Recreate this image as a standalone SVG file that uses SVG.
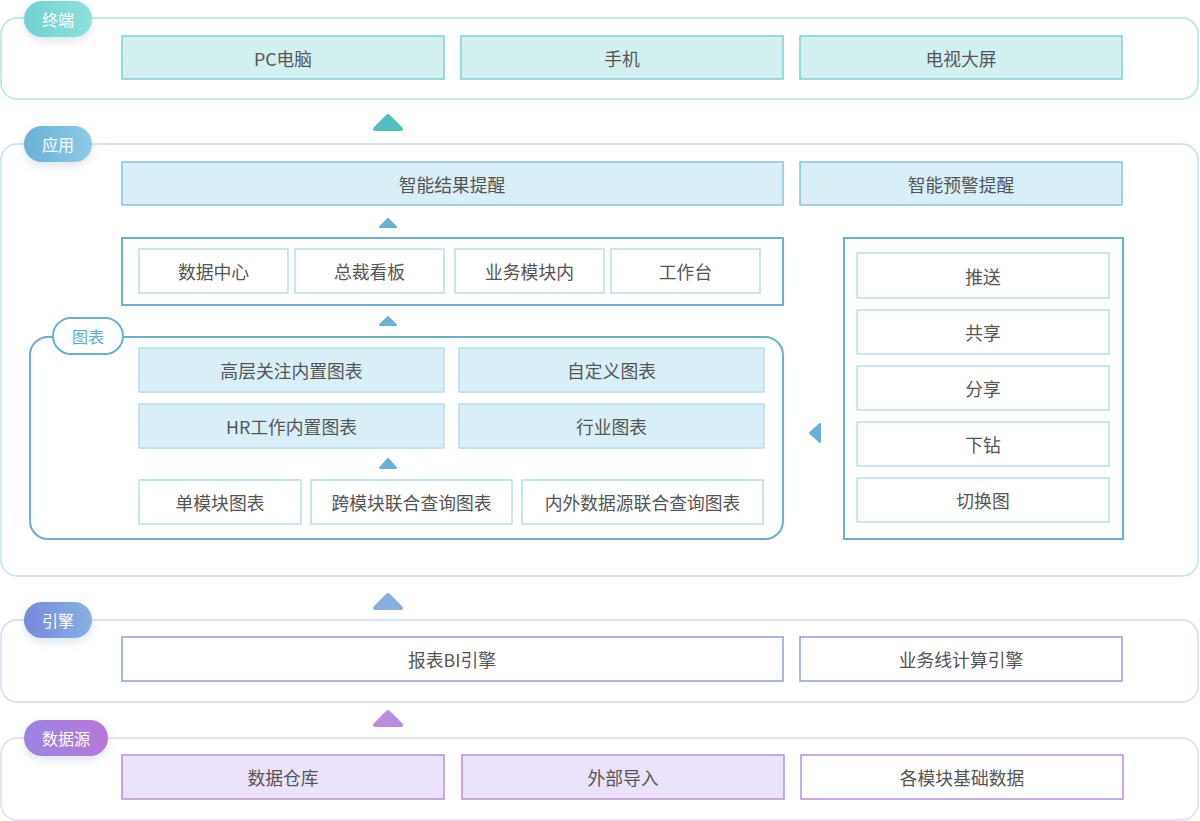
<svg xmlns="http://www.w3.org/2000/svg" width="1200" height="821" viewBox="0 0 1200 821">
<defs>
<linearGradient id="gT" x1="0" y1="0" x2="1" y2="0"><stop offset="0" stop-color="#6fd3d2"/><stop offset="1" stop-color="#8fdfdc"/></linearGradient>
<linearGradient id="gA" x1="0" y1="0" x2="1" y2="0"><stop offset="0" stop-color="#69b1d8"/><stop offset="1" stop-color="#8ecae5"/></linearGradient>
<linearGradient id="gE" x1="0" y1="0" x2="1" y2="0"><stop offset="0" stop-color="#7789db"/><stop offset="1" stop-color="#87b0e3"/></linearGradient>
<linearGradient id="gD" x1="0" y1="0" x2="1" y2="0"><stop offset="0" stop-color="#9b84e3"/><stop offset="1" stop-color="#b878d6"/></linearGradient>
<filter id="sh" x="-30%" y="-40%" width="160%" height="200%"><feDropShadow dx="0" dy="4" stdDeviation="4" flood-color="#6a8fb0" flood-opacity="0.22"/></filter>
</defs>
<style>
text{font-family:"Noto Sans CJK SC","Noto Sans",sans-serif;font-size:17.8px;fill:#555555;text-anchor:middle;dominant-baseline:central}
.bt{fill:#ffffff;font-size:16px}
.sec{fill:#ffffff;stroke-width:1.5}
.teal{fill:#d2f0f0;stroke:#7fd0d0;stroke-width:1.5}
.blue{fill:#d9eff8;stroke:#86c4df;stroke-width:1.5}
.blueL{fill:#d9eff8;stroke:#b8ddee;stroke-width:1.5}
.wb{fill:#ffffff;stroke:#b8ddee;stroke-width:1.5}
.frame{fill:#ffffff;stroke:#6ab0d2;stroke-width:2}
.eng{fill:#ffffff;stroke:#8c9fe6;stroke-width:1.5}
.purp{fill:#ebe2fb;stroke:#b98ede;stroke-width:1.5}
.purpW{fill:#ffffff;stroke:#b98ede;stroke-width:1.5}
</style>

<!-- Section outlines -->
<g id="sec-terminal">
<rect class="sec" x="1" y="18" width="1197" height="81" rx="16" stroke="#ade6e6"/>
<rect x="24" y="1" width="68" height="36" rx="18" fill="url(#gT)" filter="url(#sh)"/>
<text class="bt" x="58" y="19">终端</text>
</g>
<g id="sec-app">
<rect class="sec" x="1" y="144" width="1197" height="432" rx="16" stroke="#bfe0ee"/>
<rect x="24" y="126" width="68" height="36" rx="18" fill="url(#gA)" filter="url(#sh)"/>
<text class="bt" x="58" y="144">应用</text>
</g>
<g id="sec-engine">
<rect class="sec" x="1" y="620" width="1197" height="82" rx="16" stroke="#d3d9f6"/>
<rect x="24" y="602" width="68" height="36" rx="18" fill="url(#gE)" filter="url(#sh)"/>
<text class="bt" x="58" y="620">引擎</text>
</g>
<g id="sec-data">
<rect class="sec" x="1" y="738" width="1197" height="82" rx="16" stroke="#e4d8f5"/>
<rect x="24" y="720" width="84" height="36" rx="18" fill="url(#gD)" filter="url(#sh)"/>
<text class="bt" x="66" y="738">数据源</text>
</g>

<!-- Terminal nodes -->
<g id="n-pc"><rect class="teal" x="122" y="36" width="322" height="43"/><text x="283" y="57.5">PC电脑</text></g>
<g id="n-phone"><rect class="teal" x="461" y="36" width="322" height="43"/><text x="622" y="57.5">手机</text></g>
<g id="n-tv"><rect class="teal" x="800" y="36" width="322" height="43"/><text x="961" y="57.5">电视大屏</text></g>

<!-- App nodes -->
<g id="n-result"><rect class="blue" x="122" y="162" width="661" height="43"/><text x="452" y="183.5">智能结果提醒</text></g>
<g id="n-warn"><rect class="blue" x="800" y="162" width="322" height="43"/><text x="961" y="183.5">智能预警提醒</text></g>

<g id="n-entry">
<rect class="frame" x="122" y="238" width="661" height="67"/>
<rect class="wb" x="139" y="249" width="149" height="44"/><text x="213.5" y="271">数据中心</text>
<rect class="wb" x="295" y="249" width="149" height="44"/><text x="369.5" y="271">总裁看板</text>
<rect class="wb" x="455" y="249" width="149" height="44"/><text x="529.5" y="271">业务模块内</text>
<rect class="wb" x="611" y="249" width="149" height="44"/><text x="685.5" y="271">工作台</text>
</g>

<g id="n-chart">
<rect class="frame" x="30" y="337" width="753" height="202" rx="18"/>
<rect x="53" y="318" width="70" height="36" rx="18" fill="#ffffff" stroke="#6ab0d2" stroke-width="2"/>
<text x="88" y="336" style="fill:#5aaed4;font-size:16px">图表</text>
<rect class="blueL" x="139" y="348" width="305" height="44"/><text x="291.5" y="370">高层关注内置图表</text>
<rect class="blueL" x="459" y="348" width="305" height="44"/><text x="611.5" y="370">自定义图表</text>
<rect class="blueL" x="139" y="404" width="305" height="44"/><text x="291.5" y="426">HR工作内置图表</text>
<rect class="blueL" x="459" y="404" width="305" height="44"/><text x="611.5" y="426">行业图表</text>
<rect class="wb" x="139" y="480" width="162" height="44"/><text x="220" y="502">单模块图表</text>
<rect class="wb" x="311" y="480" width="201" height="44"/><text x="411.5" y="502">跨模块联合查询图表</text>
<rect class="wb" x="522" y="480" width="241" height="44"/><text x="642.5" y="502">内外数据源联合查询图表</text>
</g>

<g id="n-actions">
<rect class="frame" x="844" y="238" width="279" height="301"/>
<rect class="wb" x="857" y="253" width="252" height="45"/><text x="983" y="275.5">推送</text>
<rect class="wb" x="857" y="310" width="252" height="44"/><text x="983" y="332">共享</text>
<rect class="wb" x="857" y="366" width="252" height="44"/><text x="983" y="388">分享</text>
<rect class="wb" x="857" y="422" width="252" height="44"/><text x="983" y="444">下钻</text>
<rect class="wb" x="857" y="478" width="252" height="44"/><text x="983" y="500">切换图</text>
</g>

<!-- Engine nodes -->
<g id="n-bi"><rect class="eng" x="122" y="637" width="661" height="44"/><text x="452" y="659">报表BI引擎</text></g>
<g id="n-line"><rect class="eng" x="800" y="637" width="322" height="44"/><text x="961" y="659">业务线计算引擎</text></g>

<!-- Data nodes -->
<g id="n-dw"><rect class="purp" x="122" y="755" width="322" height="44"/><text x="283" y="777">数据仓库</text></g>
<g id="n-ext"><rect class="purp" x="462" y="755" width="322" height="44"/><text x="623" y="777">外部导入</text></g>
<g id="n-base"><rect class="purpW" x="801" y="755" width="322" height="44"/><text x="962" y="777">各模块基础数据</text></g>

<!-- Connectors -->
<g id="connectors" stroke-linejoin="round">
<polygon points="388,116 401,129 375,129" fill="#52bfbd" stroke="#52bfbd" stroke-width="4"/>
<polygon points="388,219 396,227 380,227" fill="#6ab0d2" stroke="#6ab0d2" stroke-width="2"/>
<polygon points="388,317 396,325 380,325" fill="#6ab0d2" stroke="#6ab0d2" stroke-width="2"/>
<polygon points="388,459 396,468 380,468" fill="#6ab0d2" stroke="#6ab0d2" stroke-width="2"/>
<polygon points="810,433 820,424 820,442" fill="#6ab0d2" stroke="#6ab0d2" stroke-width="2"/>
<polygon points="388,595 401,608 375,608" fill="#87aee0" stroke="#87aee0" stroke-width="4"/>
<polygon points="388,712 401,725 375,725" fill="#b98ede" stroke="#b98ede" stroke-width="4"/>
</g>
</svg>
